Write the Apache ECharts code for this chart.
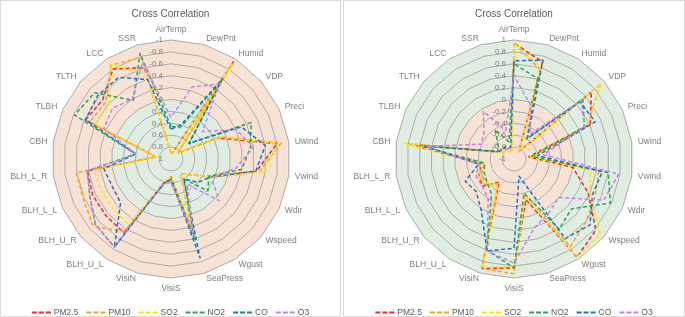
<!DOCTYPE html>
<html>
<head>
<meta charset="utf-8">
<script src="https://cdn.jsdelivr.net/npm/echarts@6/dist/echarts.min.js"></script>
<style>
  html, body { margin: 0; padding: 0; background: #fff; }
  .panel { position: absolute; top: 0; height: 317px; box-sizing: border-box; border: 1px solid #d9d9d9; }
  #left { left: 0; width: 341px; }
  #right { left: 343px; width: 342px; }
</style>
</head>
<body>
<div id="left" class="panel"></div>
<div id="right" class="panel"></div>
<script>
// 指标名称（顺时针，从正上方开始）
const axes = ["AirTemp", "DewPnt", "Humid", "VDP", "Preci", "Uwind", "Vwind", "Wdir", "Wspeed", "Wgust",
  "SeaPress", "VisiS", "VisiN", "BLH_U_L", "BLH_U_R", "BLH_L_L", "BLH_L_R", "CBH", "TLBH", "TLTH", "LCC", "SSR"];
const names = ["PM2.5", "PM10", "SO2", "NO2", "CO", "O3"];
const colors = ["#ff1f1f", "#ffa020", "#ffe600", "#22aa4e", "#1f73c2", "#c77ff2"];

// 左图（中心为 1，外圈为 -1）
const leftPM25 = [0.9, 0.88, -0.94, 0.85, 0.15, -0.8, -0.45, 0.3, 0.6, 0.7, -0.3, 0.7, 0.55, -0.47, -0.45, -0.45, -0.42, 0.75, -0.58, -0.52, -0.8, -0.6];
const leftPM10 = [0.9, 0.88, -0.9, 0.85, 0.1, -0.87, -0.5, 0.25, 0.6, 0.7, -0.28, 0.7, 0.55, -0.45, -0.73, -0.62, -0.61, 0.75, -0.5, -0.45, -0.87, -0.78];
const leftSO2 = [0.9, 0.88, -0.88, 0.85, 0.1, -0.82, -0.55, 0.3, 0.6, 0.7, -0.28, 0.7, 0.6, -0.31, -0.28, -0.29, -0.3, 0.75, -0.4, -0.38, -0.89, -0.49];
const leftNO2 = [0.45, 0.45, -0.55, 0.6, -0.48, -0.35, -0.2, 0.3, 0.18, 0.6, -0.41, 0.65, 0.58, -0.76, -0.68, -0.5, -0.42, 0.4, -0.78, -0.7, -0.17, -0.85];
const leftCO = [0.5, 0.4, -0.6, 0.6, -0.3, -0.6, -0.44, 0.27, 0.4, 0.6, -0.73, 0.65, 0.58, -0.76, -0.12, -0.09, -0.14, 0.4, -0.58, -0.63, -0.63, -0.39];
const leftO3 = [0.3, -0.26, -0.5, 0.3, -0.2, -0.4, -0.1, 0.25, -0.07, 0.5, -0.3, 0.6, 0.58, -0.76, -0.68, -0.5, -0.42, 0.4, -0.24, -0.3, -0.2, -0.7];

// 右图（中心为 -1，外圈为 1）
const rightPM25 = [0.95, 0.7, -0.85, 0.72, 0.41, -0.75, 0.0, 0.37, 0.82, 0.96, -0.29, 0.83, 0.92, -0.54, -0.3, -0.35, -0.45, 0.8, -0.72, -0.75, -0.8, -0.85];
const rightPM10 = [0.95, 0.56, -0.85, 0.93, 0.35, -0.7, 0.44, 0.5, 0.6, 0.75, -0.35, 0.93, 0.92, -0.5, -0.35, -0.4, -0.5, 0.8, -0.72, -0.75, -0.8, -0.85];
const rightSO2 = [0.95, 0.6, -0.85, 0.93, 0.35, -0.75, 0.3, 0.4, 0.92, 0.96, -0.35, 0.8, 0.9, -0.5, -0.35, -0.34, -0.45, 0.88, -0.75, -0.8, -0.85, -0.88];
const rightNO2 = [0.6, 0.41, -0.6, 0.53, 0.3, -0.7, 0.6, 0.78, 0.28, 0.4, -0.4, 0.83, 0.6, -0.3, -0.4, -0.45, -0.5, 0.6, -0.7, -0.65, -0.41, -0.7];
const rightCO = [0.65, 0.73, -0.58, 0.47, 0.5, -0.6, 0.5, 0.45, 0.69, 0.59, -0.7, 0.5, 0.61, 0.02, -0.16, -0.1, -0.4, 0.53, -0.7, -0.75, -0.75, -0.8];
const rightO3 = [0.4, -0.04, -0.5, 0.5, 0.3, -0.5, 0.78, 0.66, -0.01, 0.08, 0.21, 0.75, 0.61, -0.2, -0.3, -0.3, -0.4, 0.5, -0.4, -0.33, -0.05, -0.5];

const GREEN = "#e2f1e4";
const PINK = "#fbe5d6";
const FONT = "Liberation Sans";

// echarts 雷达默认逆时针排列，这里调换顺序让它顺时针
const order = axes.map((_, i) => (axes.length - i) % axes.length);

function buildOption(series, reversed) {
	const sign = reversed ? -1 : 1;
	const inner = reversed ? GREEN : PINK;
	const outer = reversed ? PINK : GREEN;
	const minorColors = [];
	for (let i = 0; i < 50; i++) minorColors.push(i < 25 ? inner : outer);
	const center = [170, 158];
	const radius = 119;

	const indicator = order.map((k, j) => {
		const item = { name: axes[k], min: -1, max: 1 };
		if (j === 0) {
			item.axisLabel = {
				show: true,
				color: "#7f7f7f",
				fontSize: 8,
				fontFamily: FONT,
				formatter: (v) => String(Math.round(sign * v * 10) / 10),
			};
		}
		return item;
	});

	return {
		color: colors,
		title: {
			text: "Cross Correlation",
			left: "center",
			top: 3,
			textStyle: { color: "#595959", fontSize: 10, fontWeight: "normal", fontFamily: FONT },
		},
		legend: {
			top: 302,
			left: "center",
			itemWidth: 19,
			itemHeight: 2,
			itemGap: 8,
			icon: "path://M0,0H5V2H0Z M7,0H12V2H7Z M14,0H19V2H14Z",
			textStyle: { color: "#595959", fontSize: 8.5, fontFamily: FONT, padding: [0, 0, 0, -2] },
			data: names,
		},
		radar: [
			{
				// 次网格线 + 底色
				center: center,
				radius: radius,
				shape: "polygon",
				splitNumber: 50,
				silent: true,
				indicator: order.map(() => ({ name: "", min: -1, max: 1 })),
				axisName: { show: false },
				axisLine: { show: false },
				splitLine: { lineStyle: { color: "rgba(0,0,0,0.05)", width: 1 } },
				splitArea: { show: true, areaStyle: { color: minorColors } },
			},
			{
				// 主网格线
				center: center,
				radius: radius,
				shape: "polygon",
				splitNumber: 10,
				indicator: indicator,
				nameGap: 6,
				axisName: { color: "#7f7f7f", fontSize: 8.5, fontFamily: FONT },
				axisLine: { show: false },
				axisLabel: { show: false },
				splitLine: { lineStyle: { color: "#ababab", width: 1 } },
				splitArea: { show: false },
			},
		],
		series: [
			{
				type: "radar",
				radarIndex: 1,
				symbol: "none",
				data: series.map((vals, i) => ({
					name: names[i],
					value: order.map((k) => sign * vals[k]),
					lineStyle: { color: colors[i], width: 1.5, type: [4, 2.5] },
					itemStyle: { color: colors[i] },
				})),
			},
		],
	};
}

const leftChart = echarts.init(document.getElementById("left"));
leftChart.setOption(buildOption([leftPM25, leftPM10, leftSO2, leftNO2, leftCO, leftO3], true));

const rightChart = echarts.init(document.getElementById("right"));
rightChart.setOption(buildOption([rightPM25, rightPM10, rightSO2, rightNO2, rightCO, rightO3], false));
</script>
</body>
</html>
